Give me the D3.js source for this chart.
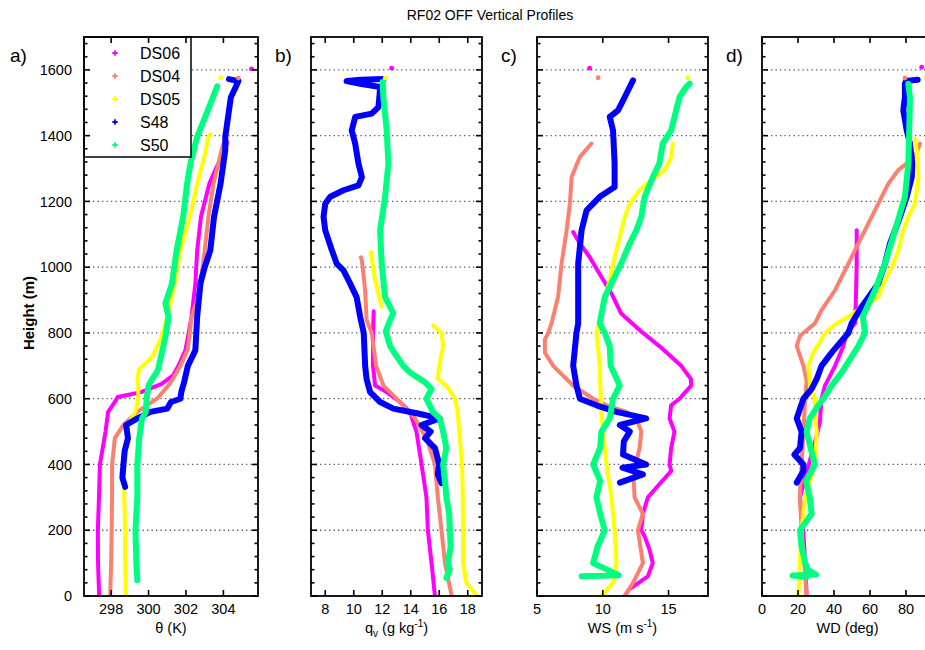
<!DOCTYPE html>
<html>
<head>
<meta charset="utf-8">
<script src="https://cdn.jsdelivr.net/npm/d3@7"></script>
<style>
  html, body { margin: 0; padding: 0; background: #fff; }
  svg { display: block; font-family: "Liberation Sans", Arial, sans-serif; }
</style>
</head>
<body>
<svg id="chart" width="925" height="650"></svg>
<script>
// ---- Series names and colours ----
const seriesNames = ["DS06", "DS04", "DS05", "S48", "S50"];
const seriesColors = ["#ff00ff", "#fa8072", "#ffff00", "#0000ff", "#00ff80"];

// ---- Height axis ----
const heightDomain = [0, 1700];
const heightTicks = [0, 200, 400, 600, 800, 1000, 1200, 1400, 1600];

// ---- Panel a: potential temperature (K), pairs of [value, height m] ----
const thetaDS06 = [[297.36,0],[297.3,100],[297.29,200],[297.35,300],[297.4,400],[297.7,500],[297.84,560],[298.2,590],[298.35,605],[299.6,620],[300.7,645],[301.3,670],[301.6,700],[301.97,747],[302.3,849],[302.5,950],[302.6,1051],[302.8,1153],[303.25,1254],[303.6,1300],[304.1,1355],[304.2,1380]];
const thetaDS04 = [[297.95,0],[298.0,100],[298.03,200],[298.05,300],[298.05,400],[298.2,480],[298.65,520],[299.4,560],[300.45,600],[301.06,640],[301.3,660],[301.7,700],[302.1,750],[302.3,849],[302.6,900],[302.77,950],[303.0,1050],[303.2,1153],[303.47,1254],[303.9,1355],[304.0,1375]];
const thetaDS05 = [[298.8,0],[298.75,100],[298.75,200],[298.7,300],[298.7,400],[298.84,480],[298.9,520],[299.3,560],[299.45,600],[299.45,640],[299.4,660],[299.5,690],[300.2,727],[300.7,788],[301.0,849],[301.4,950],[301.7,1051],[302.2,1153],[302.6,1254],[303.0,1340],[303.2,1396],[303.3,1405]];
const thetaS48 = [[298.75,332],[298.6,360],[298.66,400],[298.72,440],[298.9,480],[298.8,520],[299.4,540],[300.1,560],[301.0,570],[301.2,590],[301.7,600],[301.75,620],[301.9,650],[302.1,700],[302.5,747],[302.6,849],[302.77,950],[303.0,1000],[303.3,1051],[303.5,1153],[303.85,1254],[304.1,1355],[304.1,1396],[304.4,1517],[304.74,1558],[304.8,1566],[304.3,1572]];
const thetaS50 = [[299.4,48],[299.35,100],[299.3,200],[299.4,300],[299.4,400],[299.5,480],[299.65,540],[299.85,560],[299.9,600],[300.0,640],[300.2,660],[300.5,686],[300.9,788],[301.07,849],[300.9,890],[301.25,950],[301.5,1051],[301.85,1153],[302.06,1254],[302.24,1315],[302.6,1396],[303.1,1467],[303.67,1550]];
const thetaStray = [[305.5,1603,0],[304.8,1575,1],[303.85,1576,2]];

// ---- Panel b: specific humidity (g/kg) ----
const qvDS06 = [[15.69,3],[15.46,100],[15.2,200],[15.1,300],[14.76,400],[14.4,500],[13.94,560],[13.24,590],[12.3,620],[11.5,640],[11.35,700],[11.35,800],[11.4,866]];
const qvDS04 = [[16.86,3],[16.4,100],[16.16,200],[15.9,300],[15.7,400],[15.1,480],[14.3,540],[13.0,600],[12.08,640],[11.57,700],[11.26,800],[10.9,840],[10.8,930],[10.57,1021],[10.5,1030]];
const qvDS05 = [[18.6,3],[17.9,40],[17.67,100],[17.67,200],[17.65,300],[17.6,400],[17.44,480],[17.3,560],[17.1,600],[16.5,640],[15.9,660],[16.0,700],[16.27,760],[16.16,800],[15.57,823],null,[11.96,880],[11.5,960],[11.2,1046]];
const qvS48 = [[16.16,343],[15.9,370],[16.0,400],[15.7,450],[15.0,480],[15.4,500],[14.76,520],[16.04,540],[14.5,555],[12.78,570],[11.85,590],[11.15,620],[10.9,660],[10.8,700],[10.7,800],[10.45,849],[10.2,909],[9.75,950],[9.28,990],[8.8,1011],[8.47,1051],[8.0,1112],[7.88,1153],[8.0,1193],[8.35,1214],[9.28,1234],[10.33,1249],[10.57,1274],[10.33,1315],[10.1,1376],[9.86,1416],[10.1,1457],[11.26,1467],[11.73,1487],[11.8,1517],[11.85,1548],[10.45,1558],[9.5,1566],[10.5,1570],[12.08,1572]];
const qvS50 = [[16.5,55],[16.74,80],[16.6,100],[16.8,150],[16.74,200],[16.7,250],[16.5,300],[16.4,350],[16.27,400],[16.5,450],[16.27,500],[16.04,540],[15.55,560],[15.1,600],[15.46,630],[15.0,650],[13.94,680],[13.47,700],[13.0,730],[12.55,760],[12.25,805],[12.55,839],[12.77,860],[12.2,909],[11.96,1011],[11.85,1112],[12.2,1214],[12.43,1315],[12.31,1416],[12.08,1517],[12.03,1563]];
const qvStray = [[12.66,1605,0],[12.2,1575,2]];

// ---- Panel c: wind speed (m/s) ----
const wsDS06 = [[11.67,0],[12.0,20],[13.43,60],[13.8,100],[13.56,140],[13.2,180],[12.93,200],[13.05,250],[13.43,300],[14.3,340],[15.2,380],[15.08,400],[15.2,450],[15.45,500],[15.08,540],[15.2,580],[15.83,600],[16.72,640],[16.7,660],[15.96,700],[14.3,760],[12.9,805],[11.4,859],[10.66,920],[9.9,970],[9.0,1031],[8.26,1072],[7.75,1107]];
const wsDS04 = [[11.67,0],[12.3,40],[13.05,100],[12.67,200],[13.05,250],[12.42,300],[12.35,350],[12.5,400],[12.8,450],[12.93,500],[12.55,540],[11.8,560],[10.28,580],[9.27,600],[7.75,640],[6.23,700],[5.6,740],[5.6,780],[5.86,800],[6.1,829],[6.6,909],[6.87,1011],[7.25,1112],[7.5,1193],[7.63,1274],[8.26,1335],[9.14,1376]];
const wsDS05 = [[9.9,0],[10.78,40],[11.04,100],[10.9,200],[10.66,300],[10.28,400],[10.03,500],[9.9,560],[9.85,600],[9.77,700],[9.52,800],[9.9,849],[10.15,909],[10.53,960],[10.78,1011],[11.29,1092],[11.67,1153],[12.05,1193],[12.8,1234],[13.69,1264],[14.7,1295],[15.2,1335],[15.33,1376]];
const wsS48 = [[11.3,345],[13.05,370],[11.5,390],[13.3,400],[11.54,430],[11.6,470],[12.05,500],[11.3,520],[13.3,540],[11.04,560],[9.52,580],[8.26,600],[8.0,640],[7.75,700],[7.9,760],[8.0,800],[8.13,829],[8.13,909],[8.13,1011],[8.39,1112],[8.77,1173],[9.77,1214],[10.9,1244],[10.9,1315],[10.78,1416],[10.53,1457],[11.16,1477],[11.67,1517],[12.05,1548],[12.3,1568]];
const wsS50 = [[8.4,60],[11.2,63],[9.27,100],[9.6,150],[10.15,200],[9.8,250],[9.52,300],[9.8,350],[9.27,400],[9.8,450],[9.9,500],[10.53,540],[10.78,600],[11.29,640],[10.6,700],[10.53,760],[10.15,800],[9.77,829],[10.15,909],[10.9,970],[11.4,1011],[12.05,1072],[12.55,1112],[12.93,1153],[13.18,1214],[13.81,1274],[14.3,1315],[14.56,1376],[15.2,1416],[15.58,1477],[15.83,1517],[16.34,1548],[16.6,1558]];
const wsStray = [[9.0,1605,0],[9.65,1576,1],[16.47,1576,2]];

// ---- Panel d: wind direction (deg) ----
const wdDS06 = [[24.8,0],[24,100],[22.9,200],[21.1,300],[26,400],[30,480],[32.2,530],[32.5,560],[33.1,600],[35,640],[40.6,700],[45.2,760],[47.0,800],[51.7,829],[52.2,909],[52.6,1011],[52.6,1112]];
const wdDS04 = [[24.8,0],[23.5,100],[22,200],[21,300],[22,400],[23,500],[24,600],[24.8,656],[23,700],[19.3,760],[21,790],[23,800],[29.4,829],[33,869],[40.6,930],[48,1011],[53.5,1072],[59,1132],[64.6,1193],[70.2,1254],[75.7,1295],[85,1335],[87.8,1376]];
const wdDS05 = [[20.2,0],[21,100],[22,200],[24,300],[29.4,400],[30.4,500],[29.4,560],[29.4,600],[26.7,640],[25.7,700],[28.5,740],[33.1,780],[35,800],[41.5,829],[48,849],[53.5,870],[64.6,909],[68.3,960],[73,1011],[75.7,1051],[78.5,1112],[81.3,1153],[85,1193],[86,1234],[86.9,1274],[86.5,1315],[86,1355],[85,1390]];
const wdS48 = [[19.3,345],[23,380],[23,400],[18,430],[21.1,450],[22,500],[19.3,540],[20.5,560],[23,600],[27.6,630],[30.4,660],[33.1,700],[38.7,740],[43.3,770],[48,800],[49.8,829],[55.4,880],[64.6,950],[68.3,1011],[71.1,1072],[76.7,1153],[80.4,1214],[83.2,1274],[83.5,1315],[82.2,1376],[80.4,1416],[78.5,1477],[79.4,1517],[79.4,1558],[80,1566],[86.5,1570]];
const wdS50 = [[24.8,58],[17,62],[30,65],[25.5,80],[24,100],[22,150],[21.1,200],[27.6,250],[26.5,300],[24.5,350],[29.4,400],[27,450],[24.8,500],[26.5,540],[31.3,580],[34.1,600],[38.7,640],[44.3,680],[48.9,720],[53.5,760],[57.2,800],[56,850],[62.8,930],[68.3,1011],[73.9,1112],[79.4,1214],[81.3,1315],[81.8,1416],[82.2,1517],[81.3,1558]];
const wdStray = [[88.7,1608,0],[79.4,1575,1],[91,1578,2]];

// ---- x-axis tick values ----
const thetaTicks = [298, 300, 302, 304];
const qvTicks = [8, 10, 12, 14, 16, 18];
const wsTicks = [5, 10, 15];
const wdTicks = [0, 20, 40, 60, 80, 100];

// Panel table built from the arrays above
const panels = [
  { tag: "a)", domain: [296.55, 305.85], left: 84,  right: 258, ticks: thetaTicks, series: [thetaDS06, thetaDS04, thetaDS05, thetaS48, thetaS50], stray: thetaStray, label: "theta" },
  { tag: "b)", domain: [7, 19],          left: 311, right: 482, ticks: qvTicks,    series: [qvDS06, qvDS04, qvDS05, qvS48, qvS50], stray: qvStray, label: "qv" },
  { tag: "c)", domain: [5, 18],          left: 537, right: 708, ticks: wsTicks,    series: [wsDS06, wsDS04, wsDS05, wsS48, wsS50], stray: wsStray, label: "ws" },
  { tag: "d)", domain: [0, 95],          left: 762, right: 933, ticks: wdTicks,    series: [wdDS06, wdDS04, wdDS05, wdS48, wdS50], stray: wdStray, label: "wd" }
];

const svg = d3.select("#chart");
const plotTop = 37, plotBottom = 596;
const y = d3.scaleLinear().domain(heightDomain).range([plotBottom, plotTop]);
const minorTicks = d3.range(0, 1701, 40).filter(v => v % 200 !== 0);

// Title
svg.append("text")
  .attr("x", 490).attr("y", 20)
  .attr("text-anchor", "middle")
  .attr("font-size", 14)
  .text("RF02 OFF Vertical Profiles");

// Y axis title
svg.append("text")
  .attr("transform", "translate(34,313) rotate(-90)")
  .attr("text-anchor", "middle")
  .attr("font-size", 15)
  .attr("font-weight", "bold")
  .text("Height (m)");

panels.forEach((p, pi) => {
  const x = d3.scaleLinear().domain(p.domain).range([p.left, p.right]);
  const g = svg.append("g");
  const clipId = "clip" + pi;
  svg.append("clipPath").attr("id", clipId)
    .append("rect").attr("x", p.left).attr("y", plotTop).attr("width", p.right - p.left).attr("height", plotBottom - plotTop);

  // dotted horizontal grid
  g.append("g").selectAll("line")
    .data(heightTicks.filter(h => h > 0))
    .join("line")
    .attr("x1", p.left).attr("x2", p.right)
    .attr("y1", d => y(d)).attr("y2", d => y(d))
    .attr("stroke", "#555").attr("stroke-width", 1.3)
    .attr("stroke-dasharray", "1.3,3.2");

  // profiles
  const line = d3.line()
    .defined(d => d != null)
    .x(d => x(d[0])).y(d => y(d[1]))
    .curve(d3.curveLinear);
  const data = g.append("g").attr("clip-path", `url(#${clipId})`);
  p.series.forEach((s, si) => {
    data.append("path")
      .attr("d", line(s))
      .attr("fill", "none")
      .attr("stroke", seriesColors[si])
      .attr("stroke-width", si >= 3 ? 6 : 4)
      .attr("stroke-linejoin", "round")
      .attr("stroke-linecap", "round");
  });
  data.selectAll("circle.stray")
    .data(p.stray)
    .join("circle")
    .attr("cx", d => x(d[0])).attr("cy", d => y(d[1]))
    .attr("r", 2.4)
    .attr("fill", d => seriesColors[d[2]]);

  // legend in panel a
  if (pi === 0) {
    const lg = g.append("g");
    lg.append("rect")
      .attr("x", 84).attr("y", plotTop).attr("width", 107).attr("height", 120)
      .attr("fill", "#fff").attr("stroke", "#000").attr("stroke-width", 1.5);
    seriesNames.forEach((n, i) => {
      const cy = 53 + i * 23;
      lg.append("path")
        .attr("transform", `translate(115,${cy})`)
        .attr("d", d3.symbol(d3.symbolCross, 16)())
        .attr("fill", seriesColors[i]);
      lg.append("text")
        .attr("x", 140).attr("y", cy).attr("dy", "0.36em")
        .attr("font-size", 16)
        .text(n);
    });
  }

  // frame
  g.append("rect")
    .attr("x", p.left).attr("y", plotTop)
    .attr("width", p.right - p.left).attr("height", plotBottom - plotTop)
    .attr("fill", "none").attr("stroke", "#000").attr("stroke-width", 1.8);

  // y ticks on both sides, pointing inward
  const tk = g.append("g").attr("stroke", "#000").attr("stroke-width", 1.6);
  heightTicks.forEach(h => {
    tk.append("line").attr("x1", p.left).attr("x2", p.left + 6).attr("y1", y(h)).attr("y2", y(h));
    tk.append("line").attr("x1", p.right).attr("x2", p.right - 6).attr("y1", y(h)).attr("y2", y(h));
  });
  minorTicks.forEach(h => {
    tk.append("line").attr("x1", p.left).attr("x2", p.left + 3.5).attr("y1", y(h)).attr("y2", y(h));
    tk.append("line").attr("x1", p.right).attr("x2", p.right - 3.5).attr("y1", y(h)).attr("y2", y(h));
  });
  // x ticks top and bottom
  p.ticks.forEach(v => {
    const xv = x(v);
    tk.append("line").attr("x1", xv).attr("x2", xv).attr("y1", plotBottom).attr("y2", plotBottom - 6);
    tk.append("line").attr("x1", xv).attr("x2", xv).attr("y1", plotTop).attr("y2", plotTop + 6);
  });

  // x tick labels
  g.append("g").selectAll("text")
    .data(p.ticks.filter(v => x(v) < 925))
    .join("text")
    .attr("x", d => x(d)).attr("y", 614)
    .attr("text-anchor", "middle")
    .attr("font-size", 14.5)
    .text(d => d);

  // height tick labels only on the first panel
  if (pi === 0) {
    g.append("g").selectAll("text")
      .data(heightTicks)
      .join("text")
      .attr("x", 72).attr("y", d => y(d)).attr("dy", "0.36em")
      .attr("text-anchor", "end")
      .attr("font-size", 14.5)
      .text(d => d);
  }

  // panel tag
  g.append("text")
    .attr("x", [10, 275, 501, 726][pi]).attr("y", 62)
    .attr("font-size", 19)
    .text(p.tag);

  // x axis title
  const cx = (p.left + p.right) / 2;
  const t = g.append("text")
    .attr("x", cx).attr("y", 633)
    .attr("text-anchor", "middle")
    .attr("font-size", 14.5);
  if (p.label === "theta") {
    t.text("\u03B8 (K)");
  } else if (p.label === "qv") {
    t.append("tspan").text("q");
    t.append("tspan").attr("font-size", 10).attr("dy", 4).text("v");
    t.append("tspan").attr("dy", -4).text(" (g kg");
    t.append("tspan").attr("font-size", 10).attr("dy", -6).text("-1");
    t.append("tspan").attr("dy", 6).text(")");
  } else if (p.label === "ws") {
    t.append("tspan").text("WS (m s");
    t.append("tspan").attr("font-size", 10).attr("dy", -6).text("-1");
    t.append("tspan").attr("dy", 6).text(")");
  } else {
    t.text("WD (deg)");
  }
});
</script>
</body>
</html>
